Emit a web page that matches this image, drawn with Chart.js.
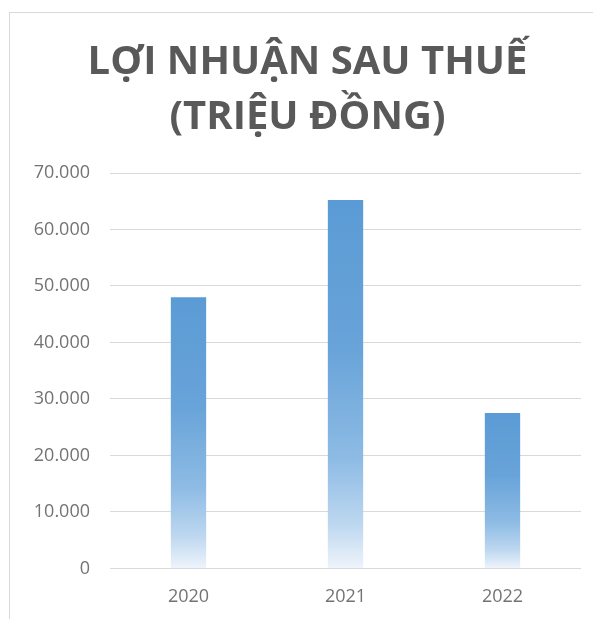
<!DOCTYPE html>
<html lang="vi">
<head>
  <meta charset="UTF-8">
  <title>Lợi nhuận sau thuế</title>
  <style>
    html, body {
      margin: 0;
      padding: 0;
      background: #ffffff;
      overflow: hidden;
      width: 593px;
      height: 619px;
    }
    .chart-box {
      position: absolute;
      left: 9px;
      top: 12px;
      width: 600px;
      height: 620px;
      border-left: 1px solid #d9d9d9;
      border-top: 1px solid #d9d9d9;
    }
  </style>
</head>
<body>
  <div class="chart-box">
    <canvas id="profitChart"></canvas>
  </div>

  <script src="https://cdn.jsdelivr.net/npm/chart.js"></script>
  <script>
    // Dữ liệu
    const years = ['2020', '2021', '2022'];
    const profit = [48000, 65200, 27500];
    const titleLines = ['LỢI NHUẬN SAU THUẾ', '(TRIỆU ĐỒNG)'];
    const yMax = 70000;
    const yStep = 10000;

    function formatVn(v) {
      return String(v).replace(/\B(?=(\d{3})+(?!\d))/g, '.');
    }

    // Gradient riêng cho từng cột: xanh ở đỉnh, nhạt dần về đáy
    function barGradient(context) {
      const chart = context.chart;
      const yScale = chart.scales.y;
      if (!chart.chartArea || !yScale) return '#5B9BD5';
      const top = yScale.getPixelForValue(profit[context.dataIndex]);
      const bottom = yScale.getPixelForValue(0);
      const g = chart.ctx.createLinearGradient(0, top, 0, bottom);
      g.addColorStop(0, '#5B9BD5');
      g.addColorStop(0.4, '#68A3D9');
      g.addColorStop(0.7, '#8DBBE4');
      g.addColorStop(0.88, '#BDD7F0');
      g.addColorStop(1, '#EEF4FB');
      return g;
    }

    const ctx = document.getElementById('profitChart').getContext('2d');
    new Chart(ctx, {
      type: 'bar',
      data: {
        labels: years,
        datasets: [{
          label: 'Lợi nhuận sau thuế',
          data: profit,
          backgroundColor: barGradient,
          borderWidth: 0,
          categoryPercentage: 1,
          barPercentage: 0.225
        }]
      },
      options: {
        responsive: true,
        maintainAspectRatio: false,
        animation: false,
        layout: {
          padding: { left: 24, right: 29, bottom: 7, top: 0 }
        },
        plugins: {
          legend: { display: false },
          tooltip: { enabled: false },
          title: {
            display: true,
            text: titleLines,
            color: '#595959',
            font: { family: 'Open Sans', size: 40, weight: 'bold', lineHeight: 1.375 },
            padding: { top: 22, bottom: 28 }
          }
        },
        scales: {
          x: {
            grid: { display: false, drawTicks: false },
            border: { display: false },
            ticks: {
              color: '#737373',
              font: { family: 'Open Sans', size: 18 },
              padding: 18
            }
          },
          y: {
            min: 0,
            max: yMax,
            border: { display: false },
            grid: { color: '#d9d9d9', lineWidth: 1, drawTicks: false },
            ticks: {
              stepSize: yStep,
              color: '#737373',
              font: { family: 'Open Sans', size: 18 },
              padding: 20,
              callback: function (v) { return formatVn(v); }
            },
            afterFit: function (scale) { scale.width = 76; }
          }
        }
      }
    });
  </script>
</body>
</html>
